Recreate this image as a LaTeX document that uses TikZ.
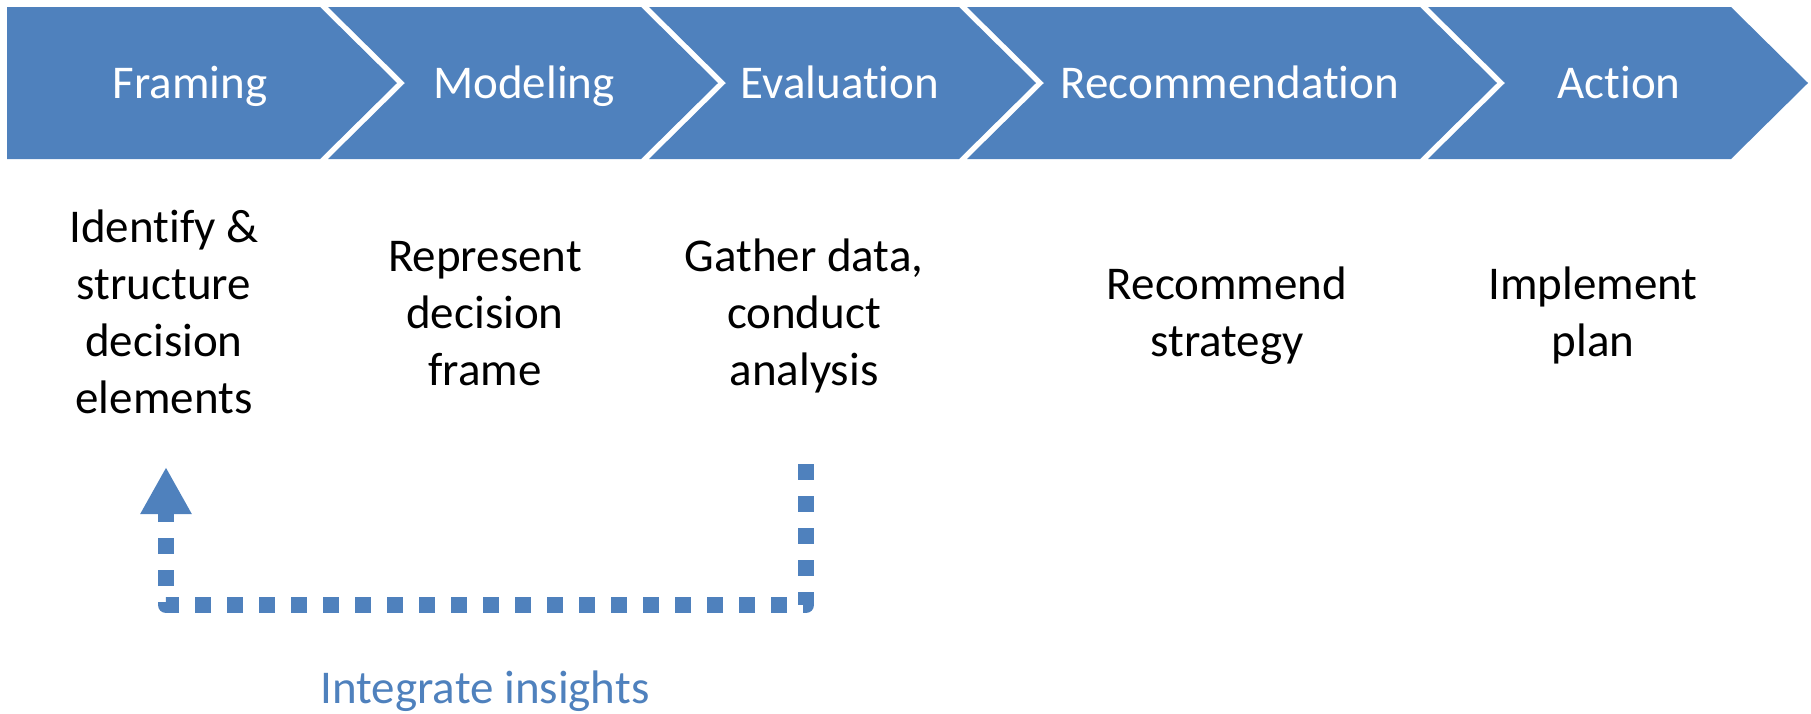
\documentclass[tikz,border=0pt]{standalone}
\usepackage{fontspec}
\setmainfont[Ligatures={NoCommon,NoContextual,NoRequired},Contextuals=NoAlternate]{Carlito}
\usetikzlibrary{arrows.meta}
\definecolor{officeblue}{RGB}{79,129,189}
\begin{document}
\begin{tikzpicture}[x=0.5pt,y=-0.5pt,
  stage/.style={fill=officeblue,draw=none},
  headtext/.style={text=white,font=\fontsize{23.5}{28.5}\selectfont,inner sep=0pt,anchor=base},
  bodytext/.style={text=black,font=\fontsize{23.5}{28.5}\selectfont,inner sep=0pt,align=center},
  notetext/.style={text=officeblue,font=\fontsize{23.5}{28.5}\selectfont,inner sep=0pt,anchor=base},
  loopline/.style={draw=officeblue,line width=8pt,dash pattern=on 8pt off 8pt,dash phase=12pt,line join=round,-{Triangle[width=24pt,length=23.5pt]}},
]
\useasboundingbox (0,0) rectangle (1811,713);
% chevrons
\fill[stage] (7,7) -- (320,7) -- (397,83) -- (320,159) -- (7,159) -- cycle;
\fill[stage] (328,7) -- (641,7) -- (718,83) -- (641,159) -- (328,159) -- (405,83) -- cycle;
\fill[stage] (649,7) -- (959,7) -- (1036,83) -- (959,159) -- (649,159) -- (726,83) -- cycle;
\fill[stage] (967,7) -- (1420,7) -- (1497,83) -- (1420,159) -- (967,159) -- (1044,83) -- cycle;
\fill[stage] (1428,7) -- (1731,7) -- (1808,83) -- (1731,159) -- (1428,159) -- (1505,83) -- cycle;
% stage titles
\node[headtext] (hframe) at (190,98) {Framing};
\node[headtext] (hmodel) at (524,98) {Modeling};
\node[headtext] (heval) at (840,98) {Evaluation};
\node[headtext] (hrec) at (1230,98) {Recommendation};
\node[headtext] (hact) at (1619,98) {Action};
% descriptions
\node[bodytext] (bframe) at (164,317) {\strut Identify \&\\structure\\decision\\elements\strut};
\node[bodytext] (bmodel) at (485,317) {\strut Represent\\decision\\frame\strut};
\node[bodytext] (beval) at (804,317) {\strut Gather data,\\conduct\\analysis\strut};
\node[bodytext] (brec) at (1227,317) {\strut Recommend\\strategy\strut};
\node[bodytext] (bact) at (1593,317) {\strut Implement\\plan\strut};
% feedback loop
\coordinate (loopstart) at (806,456);
\coordinate (loopend) at (166,467);
\coordinate (loopbottom) at (0,605);
\draw[loopline] (loopstart) -- (loopstart |- loopbottom) -- (loopend |- loopbottom) -- (loopend);
\node[notetext] (note) at (485,703) {Integrate insights};
\end{tikzpicture}
\end{document}
